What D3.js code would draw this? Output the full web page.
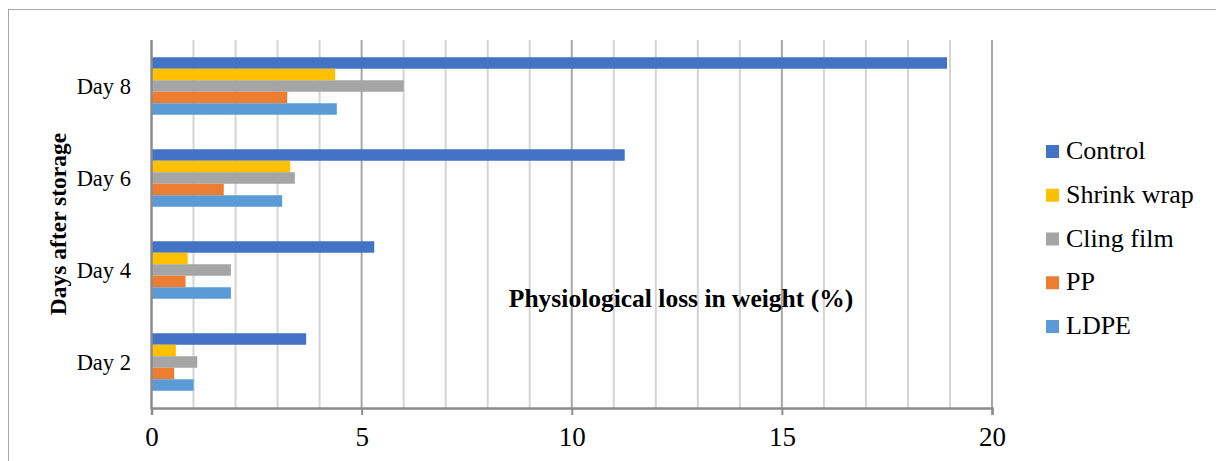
<!DOCTYPE html>
<html>
<head>
<meta charset="utf-8">
<script src="https://cdn.jsdelivr.net/npm/d3@7/dist/d3.min.js"></script>
<style>
  html, body { margin: 0; padding: 0; background: #fff; }
  svg { display: block; }
  text { font-family: "Liberation Serif", "Times New Roman", serif; fill: #000; }
</style>
</head>
<body>
<svg id="chart" width="1216" height="461"></svg>
<script>
// Physiological loss in weight (%) by storage day and packaging
const days = ["Day 2", "Day 4", "Day 6", "Day 8"];
const seriesNames = ["Control", "Shrink wrap", "Cling film", "PP", "LDPE"];
const seriesColors = ["#4472c4", "#ffc000", "#a5a5a5", "#ed7d31", "#5b9bd5"];
const control    = [3.68, 5.30, 11.26, 18.93];
const shrinkWrap = [0.58, 0.86, 3.30, 4.37];
const clingFilm  = [1.09, 1.89, 3.41, 6.00];
const pp         = [0.54, 0.81, 1.72, 3.23];
const ldpe       = [1.00, 1.89, 3.11, 4.41];
const xTicks = [0, 5, 10, 15, 20];

const seriesValues = [control, shrinkWrap, clingFilm, pp, ldpe];

const svg = d3.select("#chart");

// outer frame
svg.append("rect")
  .attr("x", 8.5).attr("y", 9.5)
  .attr("width", 1230).attr("height", 470)
  .attr("fill", "none").attr("stroke", "#a6a6a6").attr("stroke-width", 1);

const plotLeft = 151.5, plotRight = 992, plotTop = 40, plotBottom = 408;

const x = d3.scaleLinear().domain([0, 20]).range([plotLeft, plotRight]);
const y = d3.scaleBand().domain(days.slice().reverse()).range([plotTop, plotBottom])
  .paddingInner(0.375).paddingOuter(0.1875);
const ySub = d3.scaleBand().domain(seriesNames).range([0, y.bandwidth()]);

// gridlines: light every unit, darker every five
const grid = svg.append("g");
grid.selectAll("line.minor")
  .data(d3.range(1, 21).filter(v => v % 5 !== 0))
  .join("line")
  .attr("class", "minor")
  .attr("x1", d => x(d)).attr("x2", d => x(d))
  .attr("y1", plotTop).attr("y2", plotBottom)
  .attr("stroke", "#d4d4d4").attr("stroke-width", 2);
grid.selectAll("line.major")
  .data(xTicks.filter(v => v > 0))
  .join("line")
  .attr("class", "major")
  .attr("x1", d => x(d)).attr("x2", d => x(d))
  .attr("y1", plotTop).attr("y2", plotBottom)
  .attr("stroke", "#a6a6a6").attr("stroke-width", 2);

// bars
const rows = days.map((day, i) => ({
  day,
  values: seriesNames.map((name, s) => ({ name, color: seriesColors[s], value: seriesValues[s][i] }))
}));

svg.append("g").selectAll("g")
  .data(rows)
  .join("g")
  .attr("transform", d => `translate(0,${y(d.day)})`)
  .selectAll("rect")
  .data(d => d.values)
  .join("rect")
  .attr("x", x(0))
  .attr("y", d => ySub(d.name))
  .attr("width", d => x(d.value) - x(0))
  .attr("height", ySub.bandwidth())
  .attr("fill", d => d.color);

// x axis
const xAxis = svg.append("g")
  .attr("transform", `translate(0,${plotBottom})`)
  .call(d3.axisBottom(x).tickValues(xTicks).tickSize(7).tickPadding(12).tickFormat(d3.format("d")));
xAxis.select(".domain").attr("stroke", "#8c8c8c").attr("stroke-width", 2.5);
xAxis.selectAll(".tick line").attr("stroke", "#8c8c8c").attr("stroke-width", 2);
xAxis.selectAll(".tick text")
  .attr("font-family", "Liberation Serif, Times New Roman, serif")
  .attr("font-size", 27).attr("fill", "#000").attr("dy", "0.71em");

// y axis line
svg.append("line")
  .attr("x1", plotLeft).attr("x2", plotLeft)
  .attr("y1", plotTop).attr("y2", plotBottom + 1)
  .attr("stroke", "#8c8c8c").attr("stroke-width", 2.5);

// category labels
svg.append("g").selectAll("text")
  .data(days)
  .join("text")
  .attr("x", 131)
  .attr("y", d => y(d) + y.bandwidth() / 2 + 8)
  .attr("text-anchor", "end")
  .attr("font-size", 22.5)
  .text(d => d);

// axis titles
svg.append("text")
  .attr("transform", `translate(66,${(plotTop + plotBottom) / 2}) rotate(-90)`)
  .attr("text-anchor", "middle")
  .attr("font-size", 23.5)
  .attr("font-weight", "bold")
  .text("Days after storage");

svg.append("text")
  .attr("x", 681).attr("y", 307)
  .attr("text-anchor", "middle")
  .attr("font-size", 25.5)
  .attr("font-weight", "bold")
  .text("Physiological loss in weight (%)");

// legend
const legend = svg.append("g").selectAll("g")
  .data(seriesNames)
  .join("g")
  .attr("transform", (d, i) => `translate(1046,${159 + i * 43.75})`);
legend.append("rect")
  .attr("x", 0).attr("y", -14)
  .attr("width", 13).attr("height", 13)
  .attr("fill", (d, i) => seriesColors[i]);
legend.append("text")
  .attr("x", 20).attr("y", 0)
  .attr("font-size", 26)
  .text(d => d);
</script>
</body>
</html>
